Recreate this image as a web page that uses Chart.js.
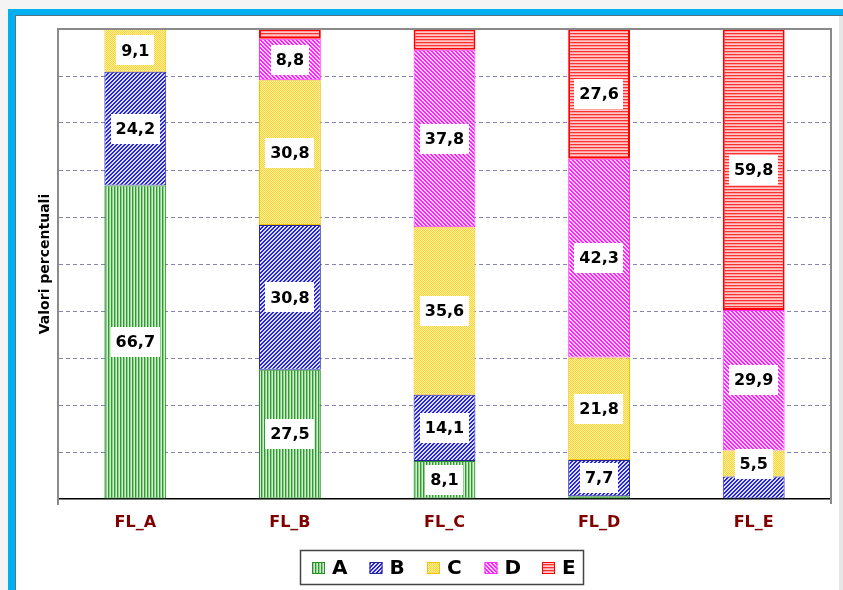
<!DOCTYPE html>
<html>
<head>
<meta charset="utf-8">
<script src="https://cdn.jsdelivr.net/npm/chart.js@4/dist/chart.umd.min.js"></script>
<style>
  body { margin: 0; background: #f4f4f4; overflow: hidden; }
  #frame { position: absolute; left: 8px; top: 9px; width: 835px; height: 600px; background: #fff;
           border-left: 7px solid #00b0f0; border-top: 6px solid #00b0f0; box-sizing: border-box; }
  #inner { position: absolute; left: 0; top: 0; right: 0; bottom: 0; border-left: 1px solid #5a7080; border-top: 1px solid #5a7080; }
  #edge { position: absolute; left: 839px; top: 16px; width: 4px; height: 574px; background: #e6e6e6; }
  #myChart { position: absolute; left: 0; top: 0; }
</style>
</head>
<body>
<div id="frame"><div id="inner"></div></div>
<div id="edge"></div>
<canvas id="myChart" width="843" height="590"></canvas>
<script>
// data (percent values)
var categories = ['FL_A', 'FL_B', 'FL_C', 'FL_D', 'FL_E'];
var seriesNames = ['A', 'B', 'C', 'D', 'E'];
var valuesA = [66.7, 27.5, 8.1, 0.6, 0];
var valuesB = [24.2, 30.8, 14.1, 7.7, 4.8];
var valuesC = [9.1, 30.8, 35.6, 21.8, 5.5];
var valuesD = [0, 8.8, 37.8, 42.3, 29.9];
var valuesE = [0, 2.1, 4.4, 27.6, 59.8];
var yTicks = [0, 10, 20, 30, 40, 50, 60, 70, 80, 90, 100];

function makePattern(size, pix) {
  var c = document.createElement('canvas');
  c.width = size; c.height = size;
  var g = c.getContext('2d');
  for (var x = 0; x < size; x++) {
    for (var y = 0; y < size; y++) {
      g.fillStyle = pix(x, y);
      g.fillRect(x, y, 1, 1);
    }
  }
  return g.createPattern(c, 'repeat');
}

var ctx = document.getElementById('myChart').getContext('2d');

var patA = makePattern(3, function (x, y) { return ['#2f9a2f', '#8fd08f', '#d2eed2'][x]; });
var patB = makePattern(4, function (x, y) { return (x + y) % 4 < 2 ? '#2626dc' : '#dcdcff'; });
var patC = makePattern(2, function (x, y) { return (x + y) % 2 == 0 ? '#ffd22e' : '#fff0a8'; });
var patD = makePattern(4, function (x, y) { return (x - y + 8) % 4 < 2 ? '#ff22ff' : '#ffd0ff'; });
var patE = makePattern(3, function (x, y) { return ['#ff3030', '#ffa0a0', '#ffcaca'][y]; });

var fills = [patA, patB, patC, patD, patE];
var borders = ['#2e8a2e', '#2424a0', '#f2c200', '#ff30ff', '#ff0000'];
var allValues = [valuesA, valuesB, valuesC, valuesD, valuesE];

var datasets = seriesNames.map(function (name, i) {
  return {
    label: name,
    data: allValues[i],
    backgroundColor: fills[i],
    borderColor: borders[i],
    borderWidth: i == 4 ? 2 : 1,
    borderSkipped: false,
    barPercentage: 0.4,
    categoryPercentage: 1
  };
});

var fontFam = '"DejaVu Sans", Verdana, sans-serif';

var extras = {
  id: 'extras',
  afterDatasetsDraw: function (chart) {
    var c = chart.ctx;
    c.save();
    c.font = 'bold 16px ' + fontFam;
    c.textAlign = 'center';
    c.textBaseline = 'middle';
    chart.data.datasets.forEach(function (ds, di) {
      var meta = chart.getDatasetMeta(di);
      meta.data.forEach(function (el, i) {
        var v = ds.data[i];
        if (v < 5) return;
        var txt = v.toFixed(1).replace('.', ',');
        var w = c.measureText(txt).width + 10;
        var cy = (el.y + el.base) / 2;
        c.fillStyle = '#fff';
        c.fillRect(Math.round(el.x - w / 2), Math.round(cy - 15), Math.round(w), 30);
        c.fillStyle = '#000';
        c.fillText(txt, el.x, cy + 1);
      });
    });
    c.restore();
  },
  afterDraw: function (chart) {
    var c = chart.ctx;
    var a = chart.chartArea;
    c.save();
    // plot frame top and right
    c.strokeStyle = '#8a8a8a';
    c.lineWidth = 2;
    c.beginPath();
    c.moveTo(a.left, a.top);
    c.lineTo(a.right, a.top);
    c.lineTo(a.right, a.bottom + 5);
    c.stroke();
    // small end ticks under the axis
    c.beginPath();
    c.moveTo(a.left, a.bottom);
    c.lineTo(a.left, a.bottom + 6);
    c.stroke();
    // y title
    c.fillStyle = '#000';
    c.font = 'bold 14px ' + fontFam;
    c.textAlign = 'center';
    c.textBaseline = 'middle';
    c.translate(45, (a.top + a.bottom) / 2);
    c.rotate(-Math.PI / 2);
    c.fillText('Valori percentuali', 0, 0);
    c.restore();

    // legend
    c.save();
    c.strokeStyle = '#444';
    c.lineWidth = 1.5;
    c.fillStyle = '#fff';
    c.fillRect(300, 550, 283, 34);
    c.strokeRect(300.5, 550.5, 283, 34);
    c.font = 'bold 20px ' + fontFam;
    c.textBaseline = 'middle';
    c.textAlign = 'left';
    chart.data.datasets.forEach(function (ds, i) {
      var x = 312 + i * 57.5;
      c.fillStyle = ds.backgroundColor;
      c.fillRect(x, 562, 13, 12);
      c.strokeStyle = ds.borderColor;
      c.lineWidth = 1;
      c.strokeRect(x + 0.5, 562.5, 12, 11);
      c.fillStyle = '#000';
      c.fillText(ds.label, x + 20, 569);
    });
    c.restore();
  }
};

var myChart = new Chart(ctx, {
  type: 'bar',
  data: { labels: categories, datasets: datasets },
  options: {
    responsive: false,
    animation: false,
    devicePixelRatio: 1,
    layout: { padding: { top: 29, right: 12, left: 0, bottom: 0 } },
    plugins: { legend: { display: false }, tooltip: { enabled: false } },
    scales: {
      x: {
        stacked: true,
        grid: { display: false, drawTicks: false },
        border: { display: true, color: '#000', width: 1.5 },
        ticks: { color: '#800000', font: { family: fontFam, size: 16, weight: 'bold' }, padding: 14 },
        afterFit: function (s) { s.height = 91; }
      },
      y: {
        stacked: true,
        min: 0,
        max: 100,
        afterBuildTicks: function (s) { s.ticks = yTicks.map(function (v) { return { value: v }; }); },
        grid: {
          drawTicks: false,
          color: function (c) { return (c.tick && (c.tick.value == 0 || c.tick.value == 100)) ? 'rgba(0,0,0,0)' : '#8484b4'; },
          lineWidth: 1
        },
        border: { display: true, color: '#8a8a8a', width: 2, dash: [4, 3] },
        ticks: { display: false },
        afterFit: function (s) { s.width = 58; }
      }
    }
  },
  plugins: [extras]
});
</script>
</body>
</html>
